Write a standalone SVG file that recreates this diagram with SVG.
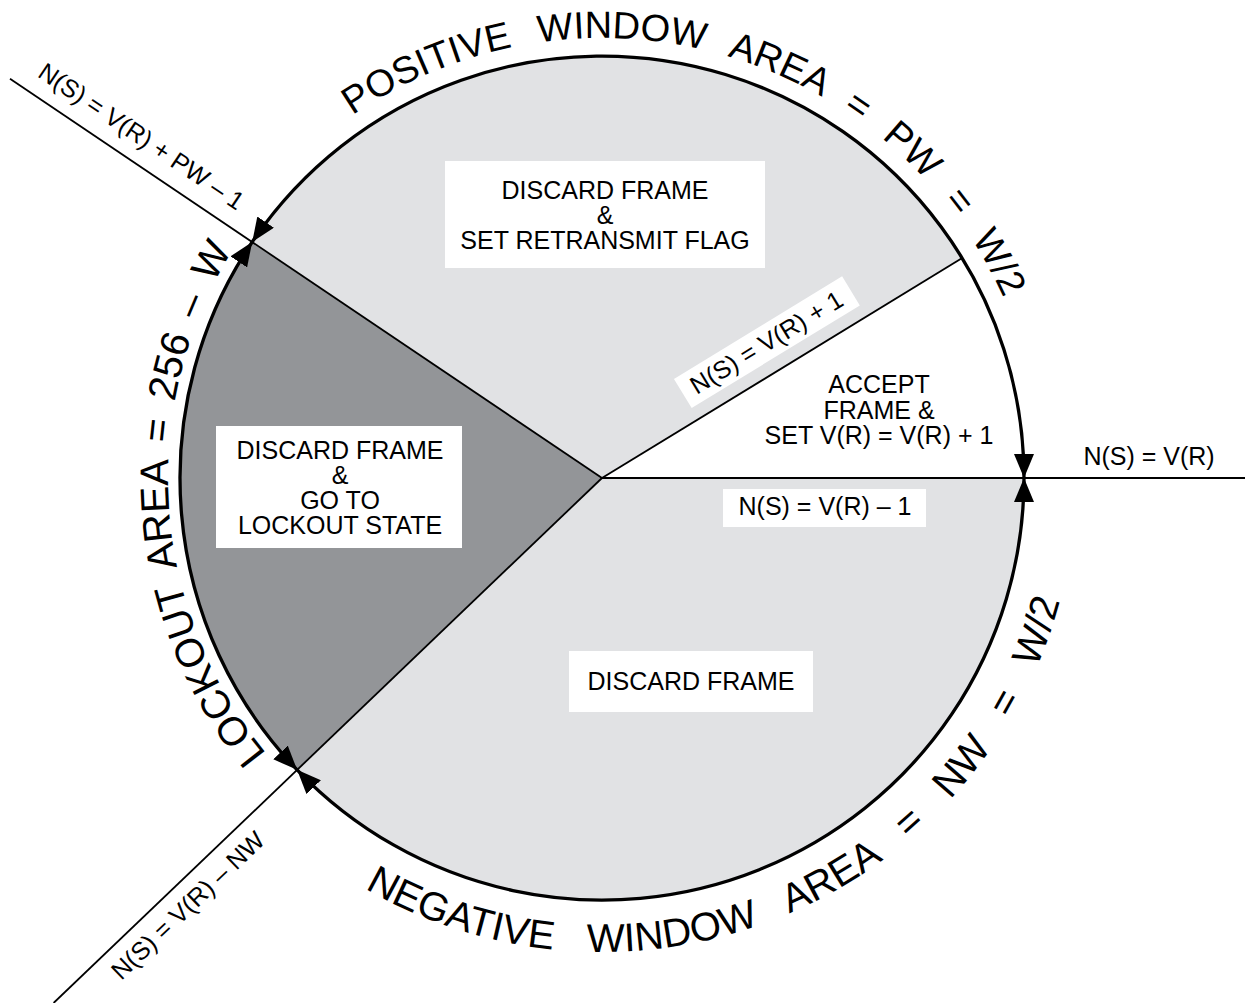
<svg xmlns="http://www.w3.org/2000/svg" width="1249" height="1003" viewBox="0 0 1249 1003">
<style>
.t{font-family:"Liberation Sans",Arial,sans-serif;font-size:25px;fill:#000}
.big{font-family:"Liberation Sans",Arial,sans-serif;font-size:40px;fill:#000}
.box{fill:#fff}
.ln{stroke:#000;stroke-width:1.8;fill:none}
.arc{stroke:#000;stroke-width:3.3;fill:none;marker-start:url(#ah);marker-end:url(#ah)}
.light{fill:#e1e2e4}
.dark{fill:#939598}
</style>
<defs>
<marker id="ah" markerUnits="userSpaceOnUse" markerWidth="24" markerHeight="20" viewBox="0 0 24 20" refX="24" refY="10" orient="auto-start-reverse"><path d="M0,0 L24,10 L0,20 Z" fill="#000"/></marker>
<path id="outerCW" d="M602,912 A434,434 0 1 1 602,44 A434,434 0 1 1 602,912"/>
<path id="outerCW2" d="M602,918 A440,440 0 1 1 602,38 A440,440 0 1 1 602,918"/>
<path id="outerCCW" d="M128,478 A474,474 0 1 0 1076,478 A474,474 0 1 0 128,478"/>
</defs>
<rect width="1249" height="1003" fill="#fff"/>
<g id="sectors">
<path id="positive" class="light" d="M602,478 L252.2,242 A422,422 0 0 1 962.2,258.1 Z"/>
<path id="accept" fill="#fff" d="M602,478 L962.2,258.1 A422,422 0 0 1 1024,478 Z"/>
<path id="negative" class="light" d="M602,478 L1024,478 A422,422 0 0 1 297.1,769.8 Z"/>
<path id="lockout" class="dark" d="M602,478 L297.1,769.8 A422,422 0 0 1 252.2,242 Z"/>
</g>
<g id="connectors">
<line class="ln" x1="602" y1="478" x2="10" y2="78.7"/>
<line class="ln" x1="602" y1="478" x2="53.6" y2="1003"/>
<line class="ln" x1="602" y1="478" x2="962.2" y2="258.1"/>
<line class="ln" x1="602" y1="478" x2="1245" y2="478"/>
<path class="arc" d="M252.2,242 A422,422 0 0 1 1024,478"/>
<path class="arc" d="M1024,478 A422,422 0 0 1 297.1,769.8"/>
<path class="arc" d="M297.1,769.8 A422,422 0 0 1 252.2,242"/>
</g>
<g id="arc-labels">
<text class="big" style="font-size:38px;word-spacing:15.5px"><textPath href="#outerCW2" startOffset="1117">POSITIVE WINDOW AREA = PW = W/2</textPath></text>
<text class="big" style="word-spacing:7px"><textPath href="#outerCW" startOffset="383">LOCKOUT AREA = 256 – W</textPath></text>
<text class="big" style="word-spacing:23px"><textPath href="#outerCCW" startOffset="496">NEGATIVE WINDOW AREA = NW = W/2</textPath></text>
</g>
<g id="n-positive">
<rect class="box" x="445" y="161" width="320" height="107"/>
<text class="t" text-anchor="middle"><tspan x="605" y="199">DISCARD FRAME</tspan><tspan x="605" y="224">&amp;</tspan><tspan x="605" y="249">SET RETRANSMIT FLAG</tspan></text>
</g>
<g id="n-plus1" transform="translate(602,478) rotate(-31.4)">
<rect class="box" x="113" y="-47" width="197" height="34"/>
<text class="t" x="211" y="-21.5" text-anchor="middle">N(S) = V(R) + 1</text>
</g>
<g id="n-accept">
<text class="t" text-anchor="middle"><tspan x="879" y="393">ACCEPT</tspan><tspan x="879" y="418.5">FRAME &amp;</tspan><tspan x="879" y="444">SET V(R) = V(R) + 1</tspan></text>
</g>
<g id="n-equal">
<text class="t" x="1149" y="465" text-anchor="middle">N(S) = V(R)</text>
</g>
<g id="n-minus1">
<rect class="box" x="723" y="489" width="203" height="38"/>
<text class="t" x="825" y="515" text-anchor="middle">N(S) = V(R) – 1</text>
</g>
<g id="n-lockout">
<rect class="box" x="216" y="426" width="246" height="122"/>
<text class="t" text-anchor="middle"><tspan x="340" y="459">DISCARD FRAME</tspan><tspan x="340" y="484">&amp;</tspan><tspan x="340" y="509">GO TO</tspan><tspan x="340" y="534">LOCKOUT STATE</tspan></text>
</g>
<g id="n-negative">
<rect class="box" x="569" y="651" width="244" height="61"/>
<text class="t" x="691" y="690" text-anchor="middle">DISCARD FRAME</text>
</g>
<g id="n-upper-boundary" transform="translate(252.2,242) rotate(34)">
<text class="t" x="-30" y="-17" text-anchor="end">N(S) = V(R) + PW – 1</text>
</g>
<g id="n-lower-boundary" transform="translate(297.1,769.8) rotate(-43.75)">
<text class="t" x="-273" y="31">N(S) = V(R) – NW</text>
</g>
</svg>
